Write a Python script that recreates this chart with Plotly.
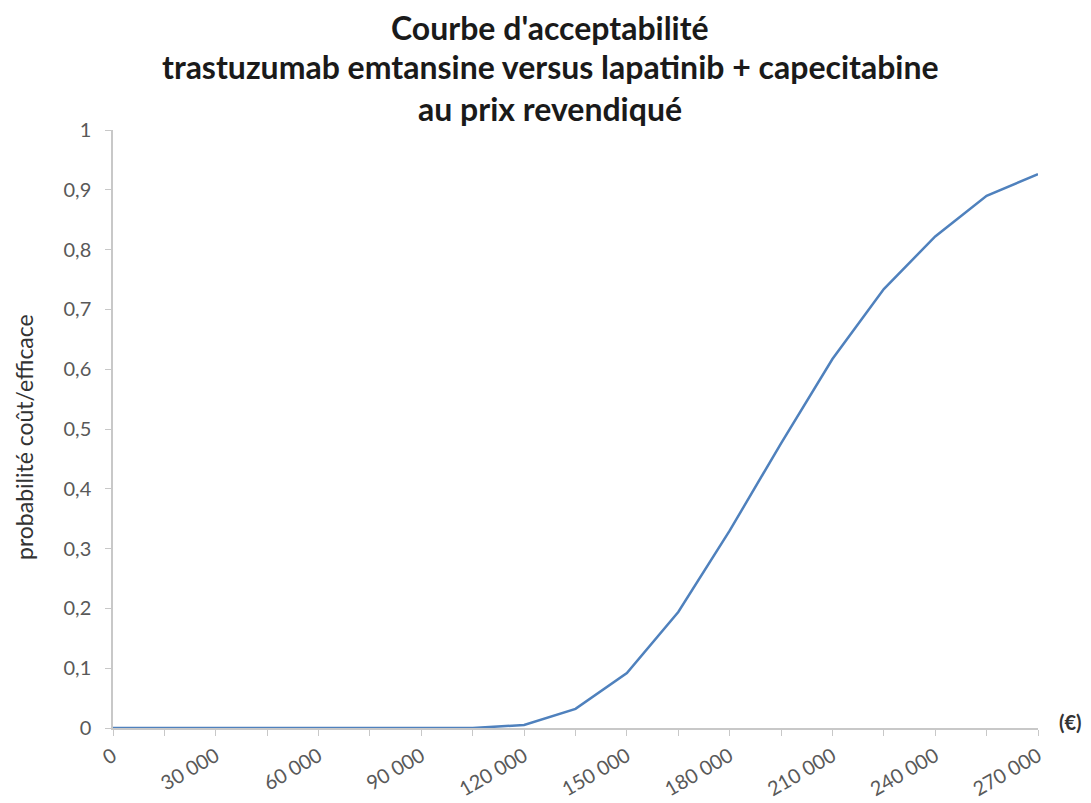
"""
Courbe d'acceptabilité - trastuzumab emtansine vs lapatinib + capecitabine
"""
import plotly.graph_objs as go

# seuils de disposition à payer (€)
seuils = [0, 15000, 30000, 45000, 60000, 75000, 90000, 105000, 120000, 135000,
          150000, 165000, 180000, 195000, 210000, 225000, 240000, 255000, 270000]
# probabilité coût/efficace
probabilite = [0, 0, 0, 0, 0, 0, 0, 0, 0.005, 0.032,
               0.092, 0.194, 0.33, 0.476, 0.617, 0.734, 0.822, 0.89, 0.926]

x_ticks = seuils
x_labels = ["0", "", "30 000", "", "60 000", "", "90 000", "", "120 000", "",
            "150 000", "", "180 000", "", "210 000", "", "240 000", "", "270 000"]
y_ticks = [0, 0.1, 0.2, 0.3, 0.4, 0.5, 0.6, 0.7, 0.8, 0.9, 1]
y_labels = ["0", "0,1", "0,2", "0,3", "0,4", "0,5", "0,6", "0,7", "0,8", "0,9", "1"]

titre = ["Courbe d'acceptabilité",
         "trastuzumab emtansine versus lapatinib + capecitabine",
         "au prix revendiqué"]

FONT = "Lato"
AXIS_COLOR = "#c8c8c8"
LABEL_COLOR = "#595959"

# zone de tracé à l'écran (px), la page ajoute 8 px de marge au body
X0, X1, Y0, Y1 = 113, 1038, 130, 728
OFF = 8


def px_to_paper(px, py):
    return (px - X0) / (X1 - X0), (Y1 - py) / (Y1 - Y0)


fig = go.Figure()

fig.add_trace(go.Scatter(
    x=seuils,
    y=probabilite,
    mode='lines',
    line=dict(color='#4f81bd', width=2.5),
    showlegend=False
))

axis_style = dict(
    ticks='outside',
    ticklen=6,
    tickcolor=AXIS_COLOR,
    showline=True,
    linecolor=AXIS_COLOR,
    linewidth=1.5,
    showgrid=False,
    zeroline=False,
    automargin=False,
)

fig.update_layout(
    width=1091 - OFF,
    height=803 - OFF,
    margin=dict(l=X0 - OFF, r=1091 - X1, t=Y0 - OFF, b=803 - Y1),
    paper_bgcolor='white',
    plot_bgcolor='white',
    font=dict(family=FONT, color=LABEL_COLOR, size=19),
    xaxis=dict(
        range=[0, 270000],
        tickvals=x_ticks,
        ticktext=x_labels,
        tickangle=-30,
        ticklabelstandoff=1,
        tickfont=dict(size=20, color=LABEL_COLOR),
        **axis_style
    ),
    yaxis=dict(
        range=[0, 1],
        tickvals=y_ticks,
        ticktext=y_labels,
        ticklabelstandoff=10,
        tickfont=dict(size=20, color=LABEL_COLOR),
        **axis_style
    ),
)

# titre sur trois lignes (lignes de base à l'écran : 37, 76, 118)
for texte, base in zip(titre, [37, 76, 118]):
    xp, yp = px_to_paper(550, base - 10)
    fig.add_annotation(
        text="<b>" + texte + "</b>",
        xref='paper', yref='paper',
        x=xp, y=yp,
        xanchor='center', yanchor='middle',
        showarrow=False,
        font=dict(family=FONT, size=32, color='#1a1a1a'),
    )

# titre de l'axe y
xp, yp = px_to_paper(24, 437)
fig.add_annotation(
    text="probabilité coût/efficace",
    xref='paper', yref='paper',
    x=xp, y=yp,
    xanchor='center', yanchor='middle',
    textangle=-90,
    showarrow=False,
    font=dict(family=FONT, size=23, color='#333333'),
)

# unité de l'axe x
xp, yp = px_to_paper(1057, 722)
fig.add_annotation(
    text="<b>(€)</b>",
    xref='paper', yref='paper',
    x=xp, y=yp,
    xanchor='left', yanchor='middle',
    showarrow=False,
    font=dict(family=FONT, size=20, color='#333333'),
)

fig.write_html("out.html")
